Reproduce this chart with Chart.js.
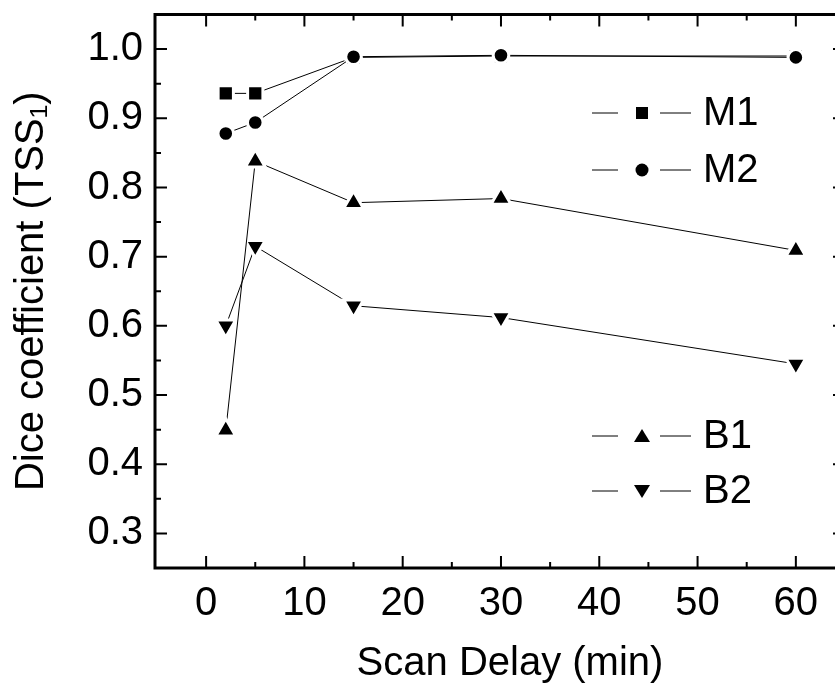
<!DOCTYPE html>
<html>
<head>
<meta charset="utf-8">
<script src="https://cdn.jsdelivr.net/npm/chart.js@4/dist/chart.umd.min.js"></script>
<style>
  html, body { margin: 0; padding: 0; background: #fff; overflow: hidden; }
  #wrap { position: relative; width: 860px; height: 688px; }
</style>
</head>
<body>
<div id="wrap"><canvas id="diceChart"></canvas></div>
<script>
// values (scan delay in minutes)
const scanDelay = [2, 5, 15, 30, 60];
const m1Values = [0.936, 0.936, 0.988, 0.990, 0.990];
const m2Values = [0.878, 0.894, 0.989, 0.991, 0.988];
const b1Values = [0.449, 0.838, 0.778, 0.784, 0.709];
const b2Values = [0.600, 0.715, 0.629, 0.612, 0.545];
const seriesNames = ['M1', 'M2', 'B1', 'B2'];
const xTicks = [0, 10, 20, 30, 40, 50, 60];
const yTicks = [0.3, 0.4, 0.5, 0.6, 0.7, 0.8, 0.9, 1.0];

const FONT = 'Liberation Sans, Arial, Helvetica, sans-serif';

function toPoints(values) {
    return values.map((v, i) => ({ x: scanDelay[i], y: v }));
}

function makeDataset(name, values, style, radius, rotation, order) {
    return {
        label: name,
        data: toPoints(values),
        borderColor: '#000',
        borderWidth: 1,
        backgroundColor: '#000',
        pointStyle: style,
        pointRotation: rotation,
        pointRadius: radius,
        pointHoverRadius: radius,
        pointBackgroundColor: '#000',
        pointBorderColor: '#fff',   // white rim gives the small gap between line and marker
        pointBorderWidth: 3,
        tension: 0,
        order: order
    };
}

// legend rows on the right side of the plot (pixels)
const legendRows = [113, 170, 436, 491];

const frameAndTicks = {
    id: 'frameAndTicks',
    afterDatasetsDraw(chart) {
        const { ctx, chartArea: a, scales: { x, y } } = chart;
        ctx.save();
        ctx.strokeStyle = '#000';
        ctx.lineWidth = 2;
        ctx.beginPath();
        xTicks.forEach((v, i) => {
            let px = x.getPixelForValue(v);
            ctx.moveTo(px, a.bottom); ctx.lineTo(px, a.bottom - 12);
            ctx.moveTo(px, a.top); ctx.lineTo(px, a.top + 12);
            if (i < xTicks.length - 1) {
                px = x.getPixelForValue((v + xTicks[i + 1]) / 2);
                ctx.moveTo(px, a.bottom); ctx.lineTo(px, a.bottom - 6);
                ctx.moveTo(px, a.top); ctx.lineTo(px, a.top + 6);
            }
        });
        yTicks.forEach((v, i) => {
            let py = y.getPixelForValue(v);
            ctx.moveTo(a.left, py); ctx.lineTo(a.left + 12, py);
            ctx.moveTo(a.right, py); ctx.lineTo(a.right - 12, py);
            if (i < yTicks.length - 1) {
                py = y.getPixelForValue((v + yTicks[i + 1]) / 2);
                ctx.moveTo(a.left, py); ctx.lineTo(a.left + 6, py);
                ctx.moveTo(a.right, py); ctx.lineTo(a.right - 6, py);
            }
        });
        ctx.stroke();
        ctx.lineWidth = 3;
        ctx.strokeRect(a.left, a.top, a.right - a.left, a.bottom - a.top);
        ctx.restore();
    }
};

function drawMarker(ctx, style, rotation, x, y) {
    ctx.beginPath();
    if (style === 'rect') {
        ctx.rect(x - 6, y - 6, 12, 12);
    } else if (style === 'circle') {
        ctx.arc(x, y, 6.5, 0, Math.PI * 2);
    } else {
        const dir = rotation === 180 ? -1 : 1;
        ctx.moveTo(x, y - dir * 7);
        ctx.lineTo(x + 8, y + dir * 6);
        ctx.lineTo(x - 8, y + dir * 6);
        ctx.closePath();
    }
    ctx.fill();
}

const sideLegend = {
    id: 'sideLegend',
    afterDraw(chart) {
        const ctx = chart.ctx;
        ctx.save();
        chart.data.datasets.forEach((ds, i) => {
            const y = legendRows[i];
            ctx.strokeStyle = '#000';
            ctx.lineWidth = 1;
            ctx.beginPath();
            ctx.moveTo(592, y); ctx.lineTo(618, y);
            ctx.moveTo(660, y); ctx.lineTo(691, y);
            ctx.stroke();
            ctx.fillStyle = '#000';
            drawMarker(ctx, ds.pointStyle, ds.pointRotation, 642, y);
            ctx.font = '40px ' + FONT;
            ctx.textAlign = 'left';
            ctx.textBaseline = 'middle';
            ctx.fillText(ds.label, 703, y + 1);
        });
        ctx.restore();
    }
};

// ticks and frame are drawn by the plugin, so drop the label overflow padding
function noEdgePadding(scale) {
    scale.paddingTop = 0;
    scale.paddingBottom = 0;
    scale.paddingLeft = 0;
    scale.paddingRight = 0;
}

const ctx = document.getElementById('diceChart').getContext('2d');
new Chart(ctx, {
    type: 'line',
    data: {
        datasets: [
            makeDataset(seriesNames[0], m1Values, 'rect', 10.8, 0, 1),
            makeDataset(seriesNames[1], m2Values, 'circle', 7.8, 0, 0),
            makeDataset(seriesNames[2], b1Values, 'triangle', 11.5, 0, 2),
            makeDataset(seriesNames[3], b2Values, 'triangle', 11.5, 180, 3)
        ]
    },
    options: {
        responsive: true,
        maintainAspectRatio: false,
        animation: false,
        layout: { padding: { top: 9, right: 15, left: 0, bottom: 0 } },
        plugins: {
            legend: { display: false },
            tooltip: { enabled: false }
        },
        scales: {
            x: {
                type: 'linear',
                min: -5.2,
                max: 65,
                afterFit: (scale) => { scale.height = 120; noEdgePadding(scale); },
                afterBuildTicks: (scale) => { scale.ticks = xTicks.map(v => ({ value: v })); },
                grid: { display: false, drawTicks: false },
                border: { display: false },
                ticks: {
                    color: '#000',
                    padding: 12,
                    maxRotation: 0,
                    autoSkip: false,
                    font: { family: FONT, size: 40 }
                },
                title: {
                    display: true,
                    // en space nudges the centred title a little to the right, as in the figure
                    text: '\u2002Scan Delay (min)',
                    color: '#000',
                    font: { family: FONT, size: 40 },
                    padding: { top: 0, bottom: 0 }
                }
            },
            y: {
                type: 'linear',
                min: 0.25,
                max: 1.05,
                afterFit: (scale) => { scale.width = 155; noEdgePadding(scale); },
                afterBuildTicks: (scale) => { scale.ticks = yTicks.map(v => ({ value: v })); },
                grid: { display: false, drawTicks: false },
                border: { display: false },
                ticks: {
                    color: '#000',
                    padding: 12,
                    autoSkip: false,
                    font: { family: FONT, size: 40 },
                    callback: (v) => Number(v).toFixed(1)
                },
                title: {
                    display: true,
                    text: 'Dice coefficient (TSS\u2081)',
                    color: '#000',
                    font: { family: FONT, size: 40 },
                    padding: { top: 8, bottom: 0 }
                }
            }
        }
    },
    plugins: [frameAndTicks, sideLegend]
});
</script>
</body>
</html>
